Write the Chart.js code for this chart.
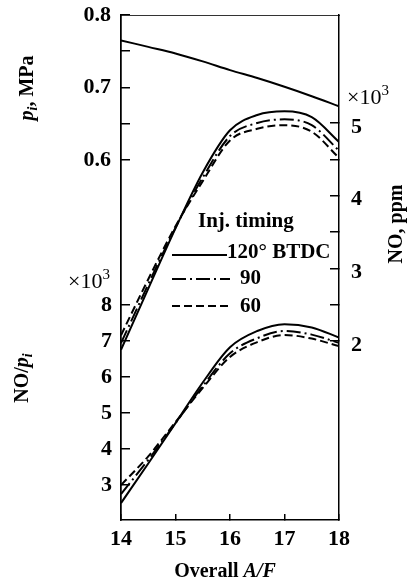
<!DOCTYPE html>
<html>
<head>
<meta charset="utf-8">
<script src="https://cdn.jsdelivr.net/npm/chart.js@4.4.1/dist/chart.umd.min.js"></script>
<style>
  html, body { margin: 0; padding: 0; background: #fff; }
  #wrap { width: 410px; height: 588px; position: relative; }
</style>
</head>
<body>
<div id="wrap"><canvas id="chart"></canvas></div>
<script>
// overall A/F
const afRatio = [14, 14.5, 15, 15.5, 16, 16.5, 17, 17.5, 18];

// indicated mean effective pressure p_i, MPa
const piMPa = [0.765, 0.756, 0.747, 0.736, 0.724, 0.713, 0.701, 0.688, 0.674];

// NO, ppm (x10^3) for each injection timing
const no120 = [1.88, 2.72, 3.55, 4.32, 4.90, 5.11, 5.16, 5.08, 4.74];
const no90  = [1.97, 2.78, 3.56, 4.25, 4.82, 5.00, 5.05, 4.97, 4.62];
const no60  = [2.08, 2.85, 3.58, 4.20, 4.76, 4.92, 4.97, 4.88, 4.52];

// NO/p_i (x10^3)
const ratio120 = [2.50, 3.60, 4.72, 5.85, 6.83, 7.28, 7.47, 7.38, 7.10];
const ratio90  = [2.75, 3.70, 4.72, 5.75, 6.66, 7.08, 7.28, 7.18, 6.95];
const ratio60  = [3.00, 3.80, 4.75, 5.70, 6.56, 6.97, 7.17, 7.07, 6.86];

const timings = ['120\u00B0 BTDC', '90', '60'];

// tick values
const xTicks = [14, 15, 16, 17, 18];
const piTicks = [0.6, 0.65, 0.7, 0.75, 0.8];
const piLabels = [0.6, 0.7, 0.8];
const ratioTicks = [3, 4, 5, 6, 7, 8];
const noTicks = [2, 2.5, 3, 3.5, 4, 4.5, 5];
const noLabels = [2, 3, 4, 5];

const SERIF = '"Liberation Serif", "Times New Roman", serif';
const DASH = { solid: [], dotdash: [14, 4, 2, 4], dash: [8, 4] };

function pts(ys) {
  return afRatio.map((x, i) => ({ x: x, y: ys[i] }));
}

function line(label, ys, axis, dash) {
  return {
    label: label,
    data: pts(ys),
    yAxisID: axis,
    borderColor: '#000',
    borderWidth: 2,
    borderDash: dash,
    pointRadius: 0,
    fill: false,
    cubicInterpolationMode: 'monotone'
  };
}

function has(list, v) {
  return list.some(t => Math.abs(t - v) < 1e-6);
}

// tick marks pointing into the plot
function inward(len) {
  return { display: true, drawOnChartArea: false, drawTicks: true, tickLength: -len, color: '#000', lineWidth: 1.5 };
}

// fixed box size, no extra room for overhanging labels
function fixSize(w, h) {
  return s => {
    if (w !== null) s.width = w;
    if (h !== null) s.height = h;
    s.paddingTop = s.paddingBottom = s.paddingLeft = s.paddingRight = 0;
  };
}

const tickFont = { family: SERIF, size: 22, weight: 'bold' };
const border = { display: true, color: '#000', width: 1.5 };

// draw a row of text runs (mixed italic / subscript)
function runWidth(ctx, parts) {
  let w = 0;
  for (const p of parts) { ctx.font = p.font; w += ctx.measureText(p.t).width; }
  return w;
}
function drawRuns(ctx, parts, x, y) {
  let cx = x;
  for (const p of parts) {
    ctx.font = p.font;
    ctx.fillText(p.t, cx, y + (p.dy || 0));
    cx += ctx.measureText(p.t).width;
  }
}
function vertical(ctx, parts, baseX, centerY) {
  ctx.save();
  ctx.translate(baseX, centerY);
  ctx.rotate(-Math.PI / 2);
  drawRuns(ctx, parts, -runWidth(ctx, parts) / 2, 0);
  ctx.restore();
}

const B20 = 'bold 20px ' + SERIF;
const BI20 = 'italic bold 20px ' + SERIF;
const BI14 = 'italic bold 14px ' + SERIF;

const figureText = {
  id: 'figureText',
  afterLayout(chart) {
    // the inner left axis shares the label column of the outer one
    chart.scales.yR.left = 0;
  },
  afterDraw(chart) {
    const ctx = chart.ctx;
    ctx.save();
    ctx.fillStyle = '#000';
    ctx.strokeStyle = '#000';
    ctx.textAlign = 'left';
    ctx.textBaseline = 'alphabetic';

    vertical(ctx, [{ t: 'p', font: BI20 }, { t: 'i', font: BI14, dy: 4 }, { t: ', MPa', font: B20 }], 33, 88);
    vertical(ctx, [{ t: 'NO/', font: B20 }, { t: 'p', font: BI20 }, { t: 'i', font: BI14, dy: 4 }], 28, 378);
    vertical(ctx, [{ t: 'NO, ppm', font: B20 }], 402, 224);

    const xt = [{ t: 'Overall ', font: B20 }, { t: 'A/F', font: BI20 }];
    drawRuns(ctx, xt, 225 - runWidth(ctx, xt) / 2, 577);

    const exp = [{ t: '\u00D710', font: '22px ' + SERIF }, { t: '3', font: '15px ' + SERIF, dy: -9 }];
    drawRuns(ctx, exp, 68, 288);
    drawRuns(ctx, exp, 347, 104);

    // legend
    ctx.font = 'bold 21px ' + SERIF;
    ctx.fillText('Inj. timing', 198, 227);
    const rows = [
      { ds: 1, y: 255, x2: 227, tx: 227, ty: 258 },
      { ds: 2, y: 279, x2: 230, tx: 240, ty: 284 },
      { ds: 3, y: 306, x2: 230, tx: 240, ty: 312 }
    ];
    rows.forEach((r, i) => {
      const ds = chart.data.datasets[r.ds];
      ctx.save();
      ctx.lineWidth = 2;
      ctx.setLineDash(ds.borderDash);
      ctx.beginPath();
      ctx.moveTo(172, r.y);
      ctx.lineTo(r.x2, r.y);
      ctx.stroke();
      ctx.restore();
      ctx.font = 'bold 21px ' + SERIF;
      ctx.fillText(timings[i], r.tx, r.ty);
    });
    ctx.restore();
  }
};

new Chart(document.getElementById('chart'), {
  type: 'line',
  data: {
    datasets: [
      line('p_i', piMPa, 'yP', DASH.solid),
      line(timings[0], no120, 'yN', DASH.solid),
      line(timings[1], no90, 'yN', DASH.dotdash),
      line(timings[2], no60, 'yN', DASH.dash),
      line('NO/p_i ' + timings[0], ratio120, 'yR', DASH.solid),
      line('NO/p_i ' + timings[1], ratio90, 'yR', DASH.dotdash),
      line('NO/p_i ' + timings[2], ratio60, 'yR', DASH.dash)
    ]
  },
  options: {
    responsive: true,
    maintainAspectRatio: false,
    animation: false,
    layout: { padding: 0 },
    plugins: { legend: { display: false }, tooltip: { enabled: false } },
    scales: {
      x: {
        type: 'linear', position: 'bottom', min: 14, max: 18,
        afterBuildTicks: s => { s.ticks = xTicks.map(v => ({ value: v })); },
        afterFit: fixSize(null, 68),
        ticks: { autoSkip: false, maxRotation: 0, color: '#000', font: tickFont, padding: 12 },
        grid: inward(6),
        border: border
      },
      x2: {
        type: 'linear', position: 'top', min: 14, max: 18,
        afterFit: fixSize(null, 15),
        ticks: { display: false },
        grid: { display: false },
        border: { display: true, color: '#333', width: 1 }
      },
      yP: {
        type: 'linear', position: 'left', weight: 1, min: 0.1034, max: 0.8,
        afterBuildTicks: s => { s.ticks = piTicks.map(v => ({ value: v })); },
        afterFit: fixSize(121, null),
        ticks: {
          autoSkip: false, color: '#000', font: tickFont, padding: 19,
          callback: v => has(piLabels, v) ? v.toFixed(1) : ''
        },
        grid: inward(9),
        border: border
      },
      yR: {
        type: 'linear', position: 'left', weight: 0, min: 2.03, max: 16.06,
        afterBuildTicks: s => { s.ticks = ratioTicks.map(v => ({ value: v })); },
        afterFit: fixSize(0, null),
        ticks: { autoSkip: false, color: '#000', font: tickFont, padding: 18, callback: v => String(v) },
        grid: inward(9),
        border: border
      },
      yN: {
        type: 'linear', position: 'right', min: -0.463, max: 6.486,
        afterBuildTicks: s => { s.ticks = noTicks.map(v => ({ value: v })); },
        afterFit: fixSize(71, null),
        ticks: {
          autoSkip: false, color: '#000', font: tickFont, padding: 21, labelOffset: 4,
          callback: v => has(noLabels, v) ? String(v) : ''
        },
        grid: inward(9),
        border: border
      }
    }
  },
  plugins: [figureText]
});
</script>
</body>
</html>
